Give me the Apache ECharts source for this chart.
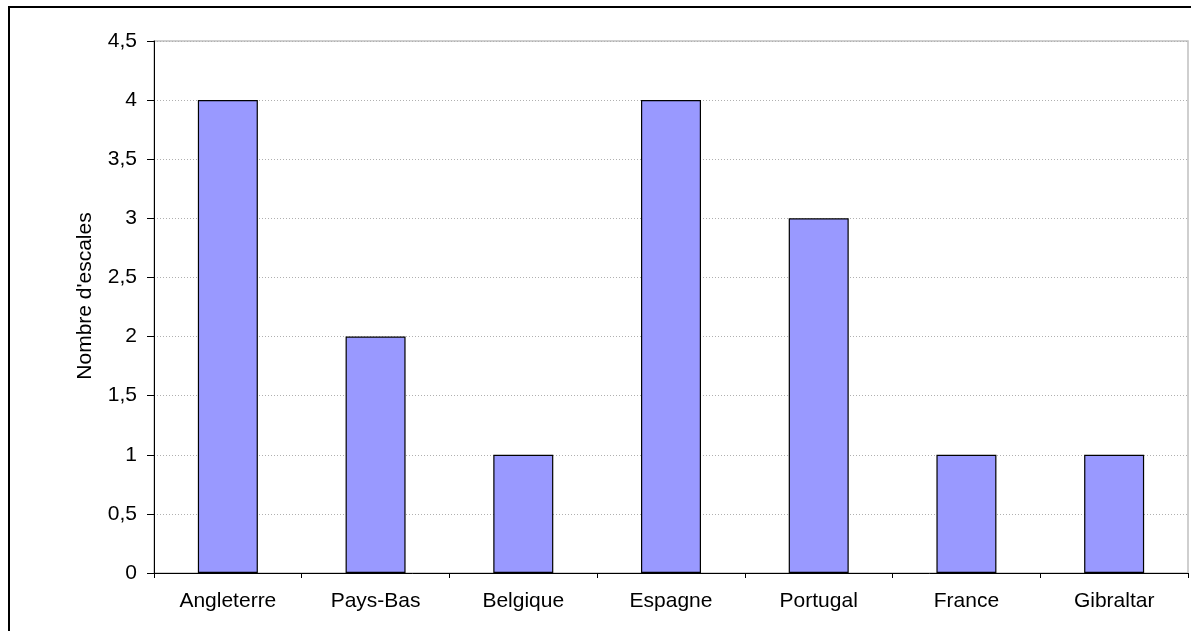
<!DOCTYPE html>
<html><head><meta charset="utf-8">
<script src="https://cdn.jsdelivr.net/npm/echarts@6/dist/echarts.min.js"></script>
<style>html,body{margin:0;padding:0;background:#fff}#c{width:1191px;height:631px}</style>
</head><body><div id="c"></div>
<script>
const categories = ['Angleterre','Pays-Bas','Belgique','Espagne','Portugal','France','Gibraltar'];
const escales = [4, 2, 1, 4, 3, 1, 1];
const yAxisName = "Nombre d'escales";

const FONT = 'Liberation Sans, Arial, sans-serif';
const chart = echarts.init(document.getElementById('c'), null, {renderer: 'canvas'});
chart.setOption({
  animation: false,
  backgroundColor: '#fff',
  graphic: [{
    type: 'rect', shape: {x: 9, y: 7, width: 1300, height: 800},
    style: {fill: 'none', stroke: '#000', lineWidth: 2}, silent: true, z: 100
  }, {
    type: 'text', x: 85, y: 296, rotation: Math.PI / 2,
    style: {text: yAxisName, fill: '#000', font: '21px ' + FONT, textAlign: 'center', textVerticalAlign: 'middle'},
    silent: true, z: 100
  }],
  grid: {left: 154, top: 41, right: 3, bottom: 58, show: true, borderColor: '#c0c0c0', borderWidth: 1.5, backgroundColor: '#fff'},
  xAxis: {
    type: 'category', data: categories,
    axisLine: {lineStyle: {color: '#000', width: 1}},
    axisTick: {show: true, alignWithLabel: false, length: 5, lineStyle: {color: '#000'}},
    axisLabel: {color: '#000', fontFamily: FONT, fontSize: 21, margin: 18}
  },
  yAxis: {
    type: 'value', min: 0, max: 4.5, interval: 0.5,
    axisLine: {show: true, lineStyle: {color: '#000', width: 1}},
    axisTick: {show: true, length: 7, lineStyle: {color: '#000'}},
    axisLabel: {color: '#000', fontFamily: FONT, fontSize: 21, margin: 17,
      formatter: v => String(v).replace('.', ',')},
    splitLine: {show: true, lineStyle: {color: '#b0b0b0', type: [1, 2], width: 1}}
  },
  series: [{
    type: 'bar', data: escales, barWidth: 60,
    itemStyle: {color: '#9999ff', borderColor: '#000', borderWidth: 1.2}
  }]
});
</script></body></html>
